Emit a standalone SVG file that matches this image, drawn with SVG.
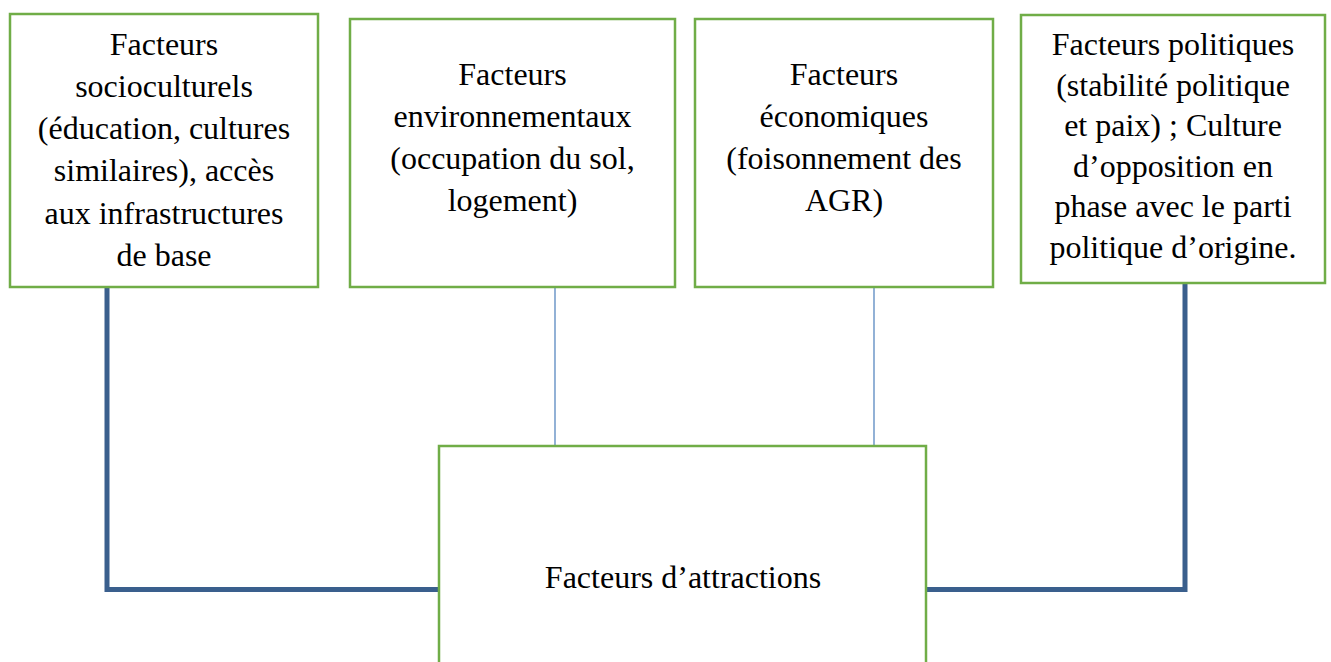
<svg xmlns="http://www.w3.org/2000/svg" width="1331" height="662" viewBox="0 0 1331 662">
<style>
.box{fill:#ffffff;stroke:#70AD47;stroke-width:2.5}
.t{font-size:32px;fill:#000;text-anchor:middle}
.thick{fill:none;stroke:#3A5F8D;stroke-width:5}
.thin{fill:none;stroke:#4A7EBB;stroke-width:1.2}
</style>
<rect width="1331" height="662" fill="#ffffff"/>
<g id="connectors">
<path class="thick" d="M107,287 V589.5 H439"/>
<path class="thick" d="M1185,283 V589.5 H926"/>
<line class="thin" x1="555" y1="287" x2="555" y2="446"/>
<line class="thin" x1="874" y1="287" x2="874" y2="446"/>
</g>
<g font-family="Liberation Serif, Times New Roman, serif">
<g id="n1">
<rect class="box" x="10" y="14" width="308" height="273"/>
<text class="t" font-family="Liberation Serif, serif"><tspan x="164" y="55">Facteurs</tspan><tspan x="164" y="97">socioculturels</tspan><tspan x="164" y="139">(éducation, cultures</tspan><tspan x="164" y="181">similaires), accès</tspan><tspan x="164" y="223.5">aux infrastructures</tspan><tspan x="164" y="266">de base</tspan></text>
</g>
<g id="n2">
<rect class="box" x="350" y="19" width="325" height="268"/>
<text class="t" font-family="Liberation Serif, serif"><tspan x="512.5" y="85">Facteurs</tspan><tspan x="512.5" y="127">environnementaux</tspan><tspan x="512.5" y="168.5">(occupation du sol,</tspan><tspan x="512.5" y="211">logement)</tspan></text>
</g>
<g id="n3">
<rect class="box" x="695" y="19" width="298" height="268"/>
<text class="t" font-family="Liberation Serif, serif"><tspan x="844" y="85">Facteurs</tspan><tspan x="844" y="127">économiques</tspan><tspan x="844" y="168.5">(foisonnement des</tspan><tspan x="844" y="211">AGR)</tspan></text>
</g>
<g id="n4">
<rect class="box" x="1021" y="15" width="304" height="268"/>
<text class="t" font-family="Liberation Serif, serif"><tspan x="1173" y="55">Facteurs politiques</tspan><tspan x="1173" y="95.5">(stabilité politique</tspan><tspan x="1173" y="136">et paix) ; Culture</tspan><tspan x="1173" y="176.5">d’opposition en</tspan><tspan x="1173" y="217">phase avec le parti</tspan><tspan x="1173" y="258">politique d’origine.</tspan></text>
</g>
<g id="n5">
<rect class="box" x="439" y="446" width="487" height="300"/>
<text class="t" font-family="Liberation Serif, serif" x="683" y="588">Facteurs d’attractions</text>
</g>
</g>
</svg>
